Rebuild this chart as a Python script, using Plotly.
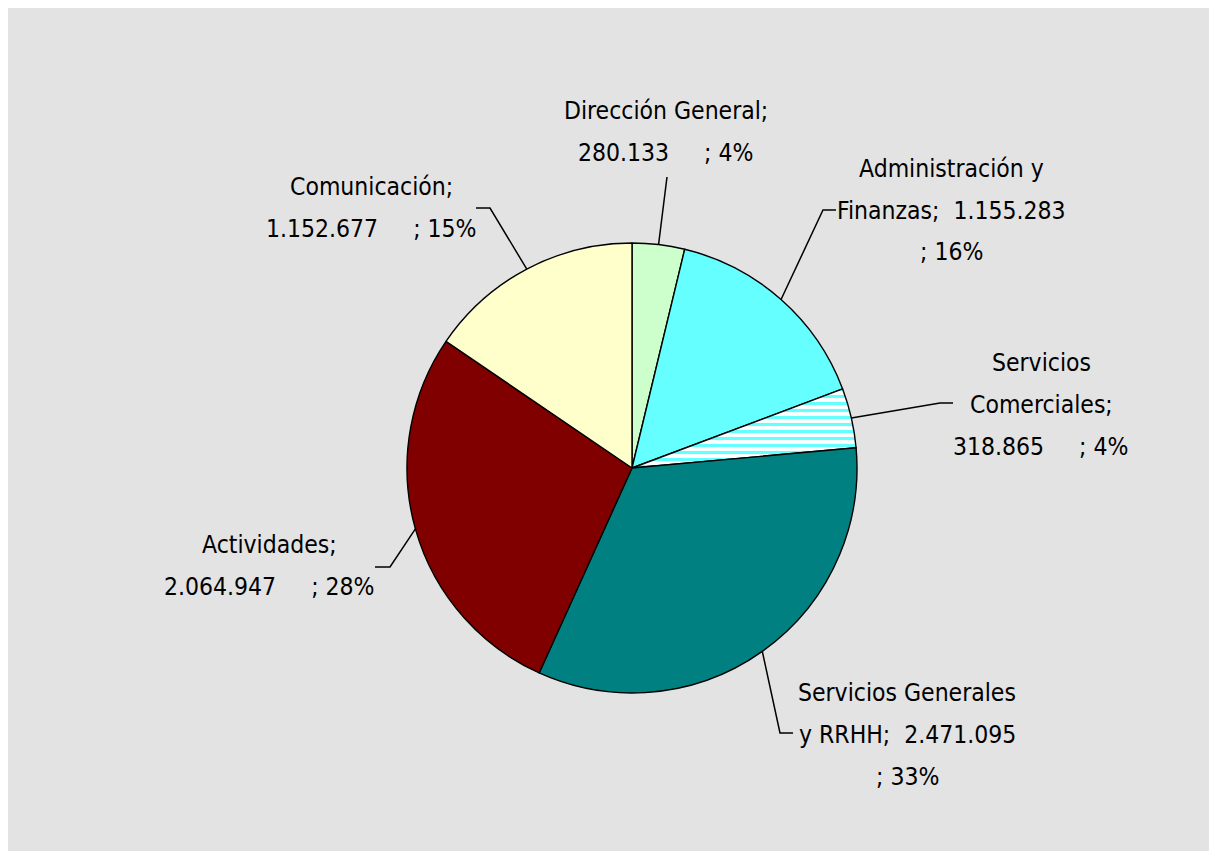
import math
import plotly.graph_objects as go

# ---- data ----
categories = ["Dirección General", "Administración y Finanzas", "Servicios Comerciales",
              "Servicios Generales y RRHH", "Actividades", "Comunicación"]
values = [280133, 1155283, 318865, 2471095, 2064947, 1152677]

# ---- styles / layout ----
colors = ["#ccffcc", "#66ffff", "#ffffff", "#008080", "#800000", "#ffffcc"]
OFF = 8                      # page body margin in the browser
W, H = 1217 - OFF, 851 - OFF  # figure size
CX, CY, R = 632, 468, 225     # pie centre / radius in screen pixels
FONT = "DejaVu Sans Condensed, Liberation Sans Narrow, sans-serif"
FS = 24.5
LINE = 42

def fmt(v):
    return f"{v:,}".replace(",", ".")

total = sum(values)
pcts = [round(v * 100 / total) for v in values]
S5 = "\u00a0" * 5
S2 = "\u00a0" * 2
V = [fmt(v) for v in values]
label_lines = [
    ["Dirección General;", f"{V[0]}{S5}; {pcts[0]}%"],
    ["Administración y", f"Finanzas;{S2}{V[1]}", f"; {pcts[1]}%"],
    ["Servicios", "Comerciales;", f"{V[2]}{S5}; {pcts[2]}%"],
    ["Servicios Generales", f"y RRHH;{S2}{V[3]}", f"; {pcts[3]}%"],
    ["Actividades;", f"{V[4]}{S5}; {pcts[4]}%"],
    ["Comunicación;", f"{V[5]}{S5}; {pcts[5]}%"],
]
# label block centre x, first-line y (screen pixels)
label_pos = [(666, 110), (951, 168), (1041, 362), (907, 692), (269, 544), (371, 186)]
# leader elbows and ends (screen pixels)
leader_elbow = [(667, 177), (823, 210), (940, 403), (780, 733), (390, 567), (490, 208)]
leader_end = [None, (836, 210), (953, 403), (793, 733), (375, 567), (476, 208)]

def px(x):
    return (x - OFF) / W

def py(y):
    return 1 - (y - OFF) / H

fig = go.Figure(go.Pie(
    labels=categories, values=values, sort=False, direction="clockwise", rotation=0,
    textinfo="none", hoverinfo="label+value+percent",
    marker=dict(colors=colors, line=dict(color="black", width=1.4),
                pattern=dict(shape=["", "", "-", "", "", ""], fgcolor="#66ffff",
                             bgcolor=colors, size=7, solidity=0.45)),
    domain=dict(x=[px(CX - R), px(CX + R)], y=[py(CY + R), py(CY - R)]),
    showlegend=False,
))

shapes = []
annotations = []
cum = 0
for i, v in enumerate(values):
    mid = (cum + v / 2) / total * 2 * math.pi
    cum += v
    ex, ey = CX + R * math.sin(mid), CY - R * math.cos(mid)
    pts = [(ex, ey), leader_elbow[i]]
    if leader_end[i] is not None:
        pts.append(leader_end[i])
    path = "M " + " L ".join(f"{px(a):.5f},{py(b):.5f}" for a, b in pts)
    shapes.append(dict(type="path", xref="paper", yref="paper", path=path,
                       line=dict(color="black", width=1.5)))
    lx, ly = label_pos[i]
    for k, t in enumerate(label_lines[i]):
        annotations.append(dict(text=t, x=px(lx), y=py(ly + k * LINE), xref="paper", yref="paper",
                                xanchor="center", yanchor="middle", showarrow=False,
                                font=dict(family=FONT, size=FS, color="black")))

fig.update_layout(width=W, height=H, margin=dict(l=0, r=0, t=0, b=0),
                  paper_bgcolor="#e3e3e3", plot_bgcolor="#e3e3e3",
                  shapes=shapes, annotations=annotations)
fig.write_html("out.html")
